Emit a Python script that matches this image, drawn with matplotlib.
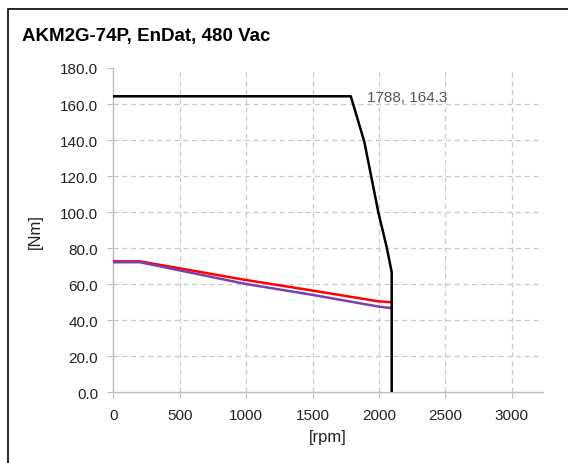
import matplotlib
matplotlib.use("Agg")
import matplotlib.pyplot as plt
from matplotlib.patches import Rectangle

plt.rcParams['font.family'] = ['Liberation Sans', 'DejaVu Sans']

title = "AKM2G-74P, EnDat, 480 Vac"
x_label = "[rpm]"
y_label = "[Nm]"

peak_rpm = [0, 1788, 1890, 1995, 2058, 2096, 2096]
peak_nm = [164.3, 164.3, 139.0, 100.0, 80.6, 66.7, 0.0]

red_rpm = [0, 200, 992, 1506, 1995, 2096]
red_nm = [72.7, 72.7, 62.4, 56.4, 50.5, 50.0]

purple_rpm = [0, 200, 992, 1506, 1995, 2096]
purple_nm = [72.2, 72.2, 60.2, 54.0, 47.6, 46.7]

annot_text = "1788, 164.3"
annot_xy = (1788, 164.3)

x_ticks = [0, 500, 1000, 1500, 2000, 2500, 3000]
y_ticks = [0, 20, 40, 60, 80, 100, 120, 140, 160, 180]

W, H = 568, 464
fig = plt.figure(figsize=(W / 100, H / 100), dpi=100)
fig.patches.append(Rectangle((8 / W, -0.1), 1.2, 1 - 10 / H + 0.1, transform=fig.transFigure,
                             fill=False, edgecolor='black', linewidth=1.2))

ax = fig.add_axes([113.3 / W, 1 - 393.3 / H, (543 - 113.3) / W, (393.3 - 69) / H])
ax.plot(peak_rpm, peak_nm, color='black', lw=1.8, solid_joinstyle='round', zorder=4)
ax.plot(red_rpm, red_nm, color='#ff0000', lw=1.8, zorder=3)
ax.plot(purple_rpm, purple_nm, color='#7a3fb0', lw=1.8, zorder=3)

ax.set_xlim(0, 3235)
ax.set_ylim(0, 180)
ax.set_xticks(x_ticks)
ax.set_xticklabels([str(v) for v in x_ticks])
ax.set_yticks(y_ticks)
ax.set_yticklabels([f"{v:.1f}" for v in y_ticks])
ax.grid(True, color='#c8c8c8', linestyle=(0, (4, 3)), linewidth=0.9)
ax.yaxis.get_gridlines()[-1].set_visible(False)
ax.xaxis.get_gridlines()[0].set_visible(False)
ax.yaxis.get_gridlines()[0].set_visible(False)

for s in ['top', 'right']:
    ax.spines[s].set_visible(False)
for s in ['left', 'bottom']:
    ax.spines[s].set_color('#bbbbbb')
    ax.spines[s].set_linewidth(1.0)
ax.tick_params(axis='both', colors='#bbbbbb', labelcolor='#222222', labelsize=11, length=4, width=0.8)
ax.tick_params(axis='x', pad=7)
ax.tick_params(axis='y', pad=7)

ax.set_xlabel(x_label, fontsize=12, color='#222222', labelpad=5)
ax.set_ylabel(y_label, fontsize=12, color='#222222', labelpad=12)

ax.annotate(annot_text, xy=annot_xy, xytext=(11.5, -0.5), textcoords='offset points',
            fontsize=11, color='#555555', va='center', ha='left')

fig.text(22 / W, 1 - 37 / H, title, fontsize=13.5, fontweight='bold', va='center', ha='left')

fig.savefig("out.png", dpi=100)
